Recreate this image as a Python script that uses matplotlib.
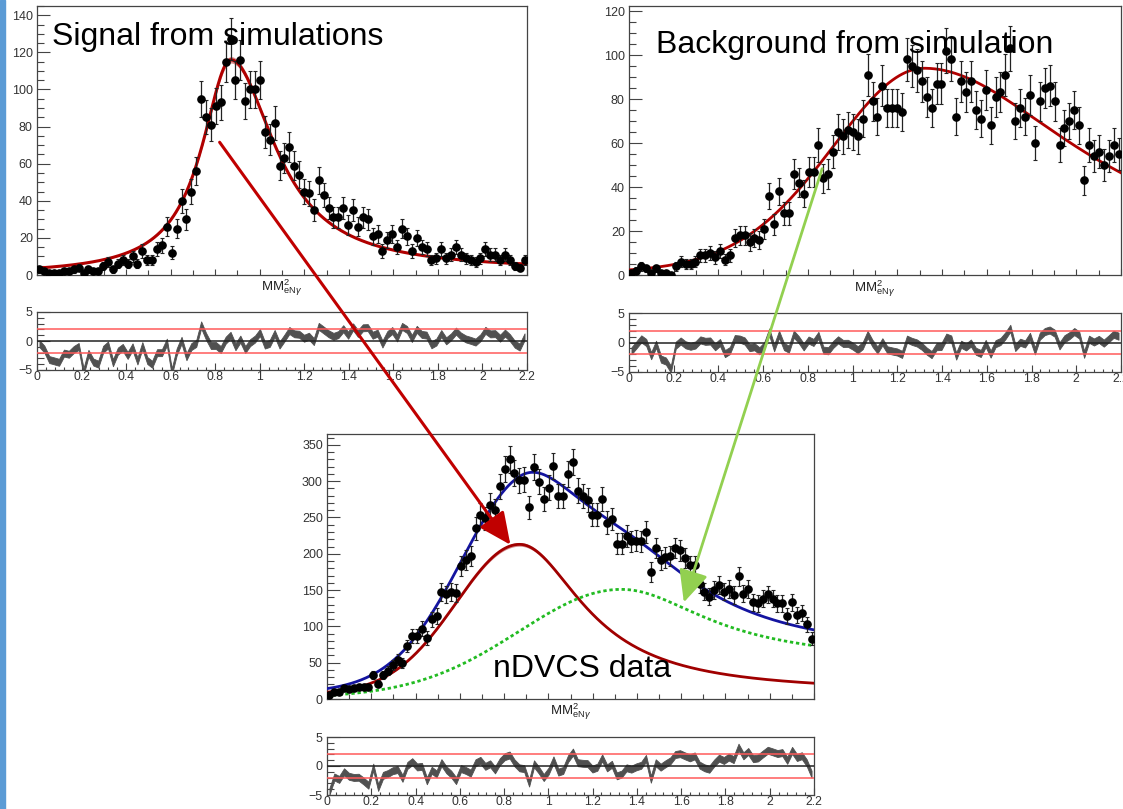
import numpy as np
import matplotlib
matplotlib.use("Agg")
import matplotlib.pyplot as plt
from matplotlib.ticker import MultipleLocator, FuncFormatter
from matplotlib.patches import FancyArrowPatch, Rectangle

plt.rcParams["font.family"] = ["Liberation Sans", "DejaVu Sans"]
plt.rcParams["mathtext.fontset"] = "custom"
plt.rcParams["mathtext.rm"] = "Liberation Sans"
plt.rcParams["mathtext.it"] = "Liberation Sans:italic"

# ---------------------------------------------------------------------------
# data: 100 bins of MM^2_eNgamma between 0 and 2.2
# ---------------------------------------------------------------------------
N_BINS = 100
X_MIN, X_MAX = 0.0, 2.2

signal_sim = [
    3, 2, 1, 1, 1, 2, 2, 3, 4, 1,
    3, 2, 2, 5, 7, 3, 6, 8, 6, 10,
    6, 13, 8, 8, 14, 16, 26, 12, 25, 40,
    30, 45, 56, 95, 85, 81, 91, 93, 115, 127,
    105, 116, 94, 100, 100, 105, 77, 73, 82, 59,
    63, 69, 59, 54, 45, 44, 35, 51, 43, 36,
    31, 31, 36, 27, 35, 26, 31, 30, 21, 22,
    13, 19, 22, 15, 25, 21, 13, 20, 15, 14,
    8, 9, 14, 9, 11, 15, 11, 9, 8, 7,
    9, 14, 11, 11, 8, 11, 8, 5, 4, 8,
]

background_sim = [
    1, 2, 4, 3, 1, 3, 1, 1, 0, 4,
    6, 5, 5, 6, 9, 9, 10, 8, 11, 7,
    9, 17, 18, 18, 15, 17, 16, 21, 36, 23,
    38, 28, 28, 46, 42, 37, 47, 47, 59, 44,
    46, 56, 65, 63, 66, 65, 63, 71, 91, 79,
    72, 86, 76, 76, 76, 74, 98, 95, 93, 88,
    81, 76, 87, 87, 102, 98, 72, 88, 83, 88,
    75, 71, 84, 68, 81, 83, 91, 103, 70, 76,
    72, 82, 60, 79, 85, 86, 79, 59, 67, 70,
    75, 68, 43, 59, 54, 56, 50, 54, 59, 55,
]

ndvcs_data = [
    5, 10, 10, 15, 14, 15, 17, 17, 17, 33,
    21, 33, 39, 47, 54, 50, 73, 87, 87, 97,
    84, 110, 114, 147, 144, 147, 146, 183, 191, 197,
    235, 254, 249, 267, 260, 293, 317, 330, 311, 301,
    302, 264, 319, 299, 276, 291, 321, 280, 280, 310,
    326, 287, 280, 274, 254, 254, 276, 243, 248, 214,
    214, 225, 217, 218, 217, 230, 175, 208, 192, 195,
    197, 208, 205, 194, 184, 184, 158, 148, 141, 150,
    157, 148, 152, 143, 169, 145, 152, 133, 132, 138,
    144, 138, 132, 132, 114, 133, 116, 118, 103, 83,
]

# fit shapes: amplitude, peak position, and per side (width, shape, tail floor)
SIG_SIM_FIT = dict(amp=116, mu=0.87, wl=0.158, nl=1, cl=0.0, wr=0.24, nr=1, cr=0.02)
BKG_SIM_FIT = dict(amp=94, mu=1.32, wl=0.42, nl=20, cl=0.01, wr=0.87, nr=1, cr=0.0)
DATA_SIG_FIT = dict(amp=213, mu=0.87, wl=0.29, nl=50, cl=0.03, wr=0.35, nr=1, cr=0.04)
DATA_BKG_FIT = dict(amp=151, mu=1.33, wl=0.47, nl=50, cl=0.01, wr=0.48, nr=1, cr=0.33)

XTICK_LABELS = ["0", "0.2", "0.4", "0.6", "0.8", "1", "1.2", "1.4", "1.6", "1.8", "2", "2.2"]
X_TITLE = r"MM$^{2}_{\mathrm{eN}\gamma}$"


def peak(x, amp, mu, wl, nl, cl, wr, nr, cr):
    d = np.asarray(x) - mu
    left = d < 0
    w = np.where(left, wl, wr)
    n = np.where(left, nl, nr)
    c = np.where(left, cl, cr)
    core = (1 + d ** 2 / (n * w ** 2)) ** (-(n + 1) / 2)
    return amp * (c + (1 - c) * core)


edges = np.linspace(X_MIN, X_MAX, N_BINS + 1)
centers = 0.5 * (edges[1:] + edges[:-1])
xs = np.linspace(X_MIN, X_MAX, 600)

W, H = 1123, 809
fig = plt.figure(figsize=(W / 100, H / 100), dpi=100)
fig.patch.set_facecolor("white")

FRAME = "#444444"
TICKC = "#333333"


def rect(left, top, right, bottom):
    return [left / W, 1 - bottom / H, (right - left) / W, (bottom - top) / H]


def style(ax, ylen, xlen, xminor_frac=0.5):
    for s in ax.spines.values():
        s.set_color(FRAME)
        s.set_linewidth(0.9)
    ax.tick_params(which="both", direction="in", top=False, right=False,
                   colors=FRAME, labelcolor=TICKC, labelsize=9)
    ax.tick_params(axis="y", which="major", length=ylen, width=0.8, pad=3)
    ax.tick_params(axis="y", which="minor", length=ylen * 0.55, width=0.8)
    ax.tick_params(axis="x", which="major", length=xlen, width=0.8, pad=1)
    ax.tick_params(axis="x", which="minor", length=xlen * xminor_frac, width=0.8)


def main_panel(box, counts, ymax, ymajor, yminor, title_y):
    ax = fig.add_axes(rect(*box))
    counts = np.asarray(counts, dtype=float)
    ax.errorbar(centers, counts, yerr=np.sqrt(counts), fmt="o", ms=5.2,
                color="black", ecolor="#222222", elinewidth=0.9,
                capsize=1.6, capthick=0.8, zorder=4)
    ax.set_xlim(X_MIN, X_MAX)
    ax.set_ylim(0, ymax)
    ax.xaxis.set_major_locator(MultipleLocator(0.2))
    ax.xaxis.set_minor_locator(MultipleLocator(0.1))
    ax.yaxis.set_major_locator(MultipleLocator(ymajor))
    ax.yaxis.set_minor_locator(MultipleLocator(yminor))
    ax.set_xticklabels([])
    ax.yaxis.set_major_formatter(FuncFormatter(lambda v, p: f"{v:g}"))
    style(ax, 9.0, 4.5, xminor_frac=0.75)
    fig.text((box[0] + box[2]) / 2 / W, 1 - title_y / H, X_TITLE,
             ha="center", va="center", fontsize=9.5, color="#222222")
    return ax


def ratio_panel(box, counts, fit_vals):
    ax = fig.add_axes(rect(*box))
    counts = np.asarray(counts, dtype=float)
    err = np.sqrt(np.maximum(counts, 1.0))
    pull = np.clip((counts - fit_vals) / err, -5.4, 5.4)
    ax.fill_between(centers, pull - 0.6, pull + 0.6, color="#505050",
                    lw=0.6, edgecolor="#505050", zorder=2)
    ax.axhline(0, color="#222222", lw=1.1, zorder=3)
    ax.axhline(2, color="#ff5a5a", lw=1.1, zorder=3)
    ax.axhline(-2, color="#ff5a5a", lw=1.1, zorder=3)
    ax.set_xlim(X_MIN, X_MAX)
    ax.set_ylim(-5, 5)
    ax.set_xticks(np.arange(len(XTICK_LABELS)) * 0.2)
    ax.set_xticklabels(XTICK_LABELS)
    ax.xaxis.set_minor_locator(MultipleLocator(0.04))
    ax.set_yticks([-5, 0, 5])
    ax.set_yticklabels(["\u22125", "0", "5"])
    ax.yaxis.set_minor_locator(MultipleLocator(1))
    style(ax, 9.0, 5.0)
    ax.tick_params(axis="x", labelsize=8.8)
    return ax


def fit_line(ax, fit, color, lw=2.0, band=0.0, **kw):
    y = peak(xs, **fit)
    if band > 0:
        ax.fill_between(xs, y * (1 - band), y * (1 + band), color=color,
                        alpha=0.45, lw=0, zorder=3)
    ax.plot(xs, y, color=color, lw=lw, zorder=3, **kw)
    return y


# --- top left: signal simulation ---
ax1 = main_panel((37, 6, 527, 275), signal_sim, 145, 20, 5, 288)
fit_line(ax1, SIG_SIM_FIT, "#b00000", lw=2.2, band=0.015)
ratio_panel((37, 312, 527, 370), signal_sim, peak(centers, **SIG_SIM_FIT))

# --- top right: background simulation ---
ax2 = main_panel((629, 6, 1121, 275), background_sim, 122.3, 20, 5, 289)
fit_line(ax2, BKG_SIM_FIT, "#b00000", lw=2.0)
ratio_panel((629, 313, 1121, 372), background_sim, peak(centers, **BKG_SIM_FIT))

# --- bottom: nDVCS data ---
ax3 = main_panel((327, 434, 814, 699), ndvcs_data, 365, 50, 10, 712)
sig = fit_line(ax3, DATA_SIG_FIT, "#a00000", lw=2.0, band=0.012)
bkg = fit_line(ax3, DATA_BKG_FIT, "#22bb22", lw=2.0, linestyle=(0, (1.2, 1.0)))
ax3.plot(xs, sig + bkg, color="#1414a0", lw=2.0, zorder=3)
ratio_panel((327, 737, 814, 795), ndvcs_data,
            peak(centers, **DATA_SIG_FIT) + peak(centers, **DATA_BKG_FIT))

# --- slide annotations ---
fig.add_artist(Rectangle((0, 0), 5 / W, 1, transform=fig.transFigure,
                         color="#5b9bd5", zorder=10))
fig.text(52 / W, 1 - 45 / H, "Signal from simulations", fontsize=23,
         va="baseline", ha="left", zorder=6)
fig.text(656 / W, 1 - 53 / H, "Background from simulation", fontsize=23,
         va="baseline", ha="left", zorder=6)
fig.text(493 / W, 1 - 677 / H, "nDVCS data", fontsize=23,
         va="baseline", ha="left", zorder=6)

red_arrow = FancyArrowPatch((218 / W, 1 - 140 / H), (512 / W, 1 - 547 / H),
                            transform=fig.transFigure,
                            arrowstyle="-|>,head_length=1.4,head_width=0.65",
                            mutation_scale=14, lw=2.2, color="#c00000", zorder=7)
green_arrow = FancyArrowPatch((823 / W, 1 - 166 / H), (683 / W, 1 - 605 / H),
                              transform=fig.transFigure,
                              arrowstyle="-|>,head_length=1.4,head_width=0.65",
                              mutation_scale=14, lw=2.0, color="#92d050", zorder=7)
fig.add_artist(red_arrow)
fig.add_artist(green_arrow)

fig.savefig("out.png", dpi=100, facecolor="white")
